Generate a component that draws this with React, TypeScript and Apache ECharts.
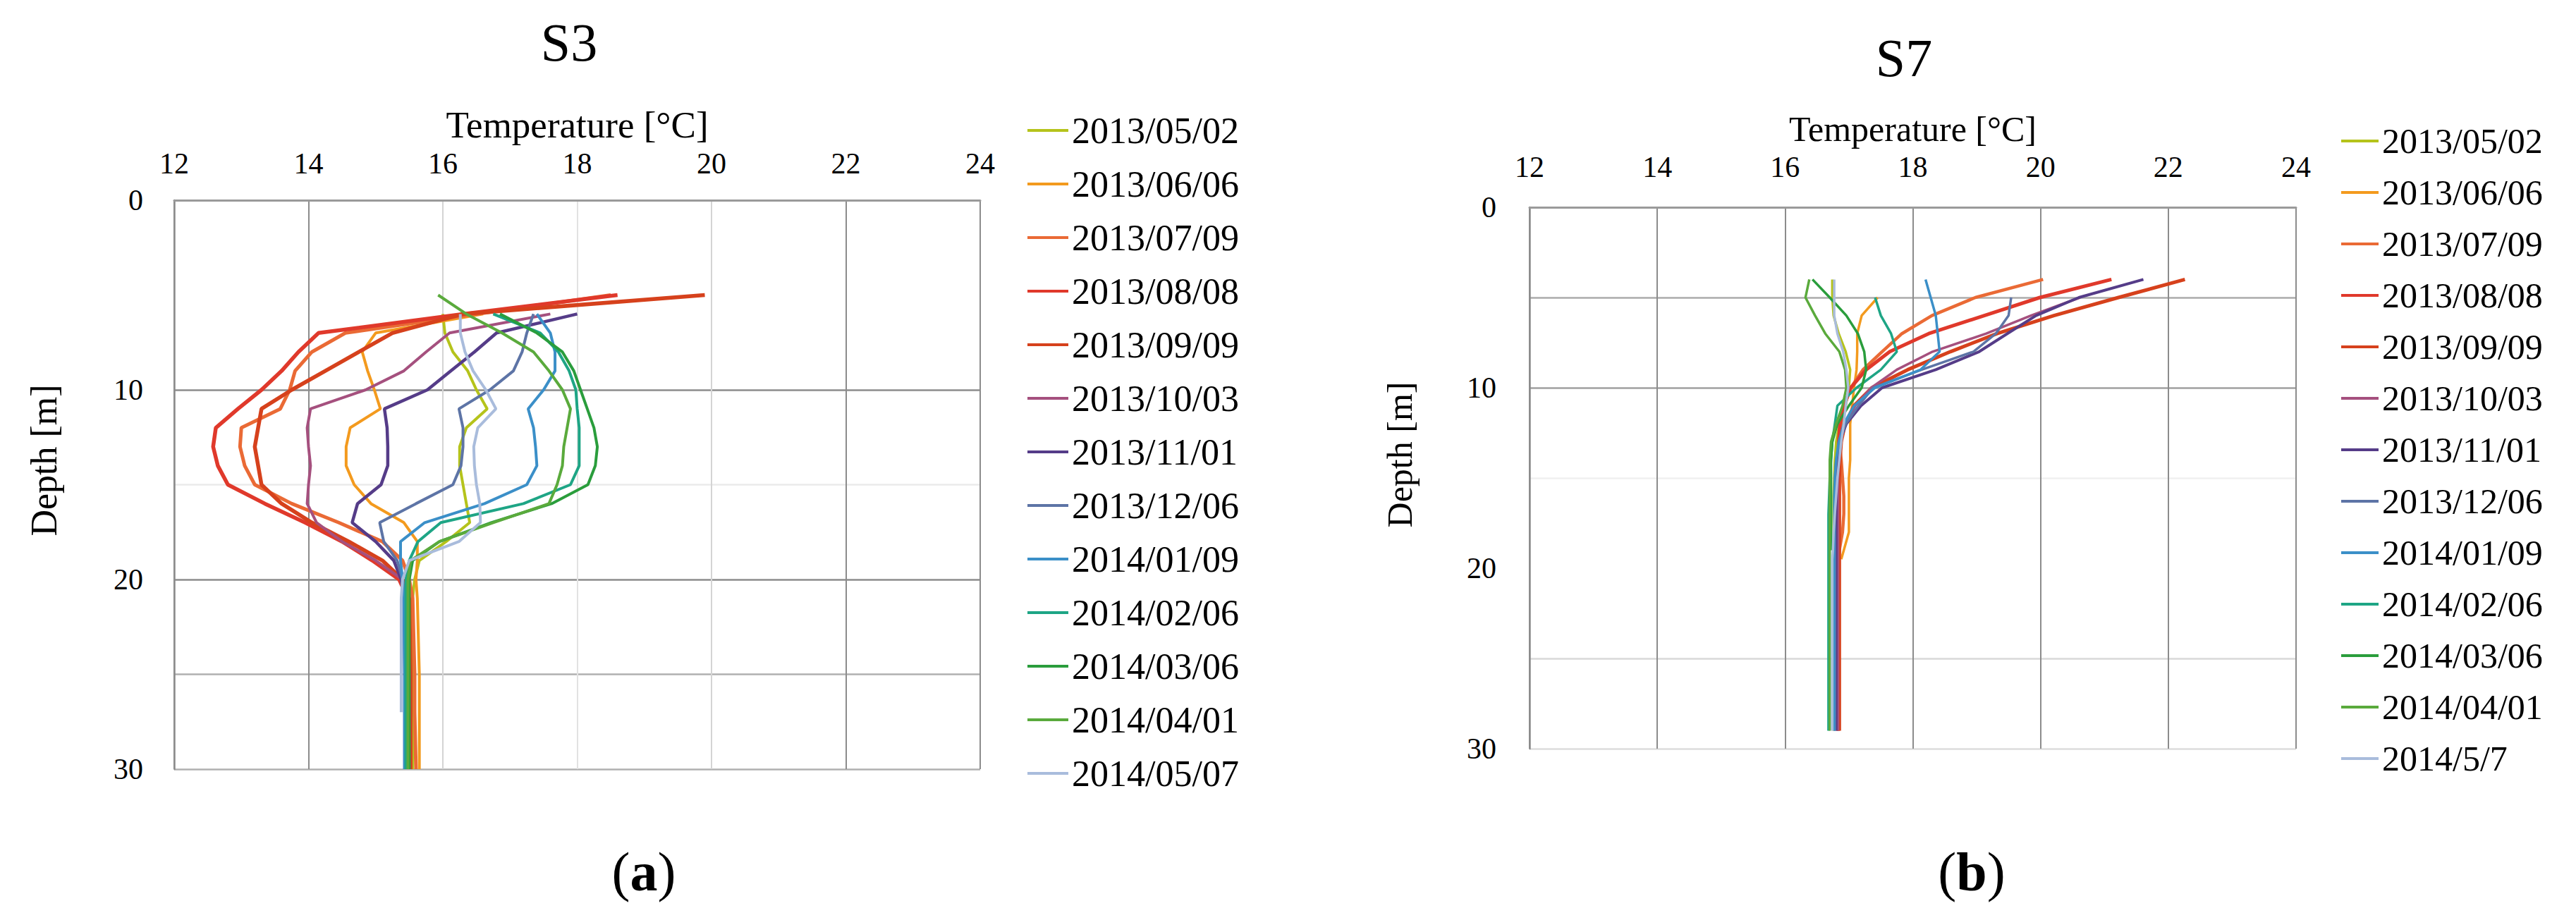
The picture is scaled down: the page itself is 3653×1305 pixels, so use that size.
import React, { useEffect, useRef } from "react";
import * as echarts from "echarts";

const FONT = '"Liberation Serif", "Times New Roman", serif';

// ---------- S3 (a) ----------
const NAMES_A = [
  "2013/05/02", "2013/06/06", "2013/07/09", "2013/08/08", "2013/09/09", "2013/10/03", "2013/11/01",
  "2013/12/06", "2014/01/09", "2014/02/06", "2014/03/06", "2014/04/01", "2014/05/07",
];
const DEPTHS_A = [5, 6, 7, 8, 9, 10, 11, 12, 13, 14, 15, 16, 17, 18, 19, 20, 21, 25, 27, 30];
const A_20130502 = [null, 16.0, 16.03, 16.15, 16.37, 16.5, 16.66, 16.35, 16.25, 16.25, 16.3, 16.35, 16.4, 16.05, 15.65, 15.58, 15.55, 15.55, 15.55, 15.55];
const A_20130606 = [null, 16.6, 15.0, 14.8, 14.88, 14.98, 15.07, 14.62, 14.56, 14.56, 14.68, 14.93, 15.42, 15.62, 15.62, 15.6, 15.62, 15.65, 15.65, 15.65];
const A_20130709 = [18.5, 16.5, 14.55, 14.05, 13.8, 13.72, 13.58, 13.0, 12.98, 13.05, 13.2, 13.75, 14.45, 15.1, 15.4, 15.5, 15.55, 15.58, 15.58, 15.6];
const A_20130808 = [18.6, 16.3, 14.15, 13.85, 13.6, 13.3, 12.95, 12.62, 12.58, 12.65, 12.8, 13.35, 13.95, 14.5, 14.95, 15.35, 15.48, 15.5, 15.5, 15.5];
const A_20130909 = [19.9, 16.3, 15.25, 14.75, 14.25, 13.75, 13.3, 13.25, 13.2, 13.25, 13.3, 13.6, 14.05, 14.6, 15.1, 15.4, 15.5, 15.52, 15.52, 15.52];
const A_20131003 = [null, 17.6, 16.1, 15.75, 15.42, 14.85, 14.03, 13.98, 14.0, 14.03, 14.0, 13.98, 14.12, 14.5, 15.0, 15.4, 15.48, 15.5, 15.5, 15.5];
const A_20131101 = [null, 18.0, 16.8, 16.47, 16.12, 15.77, 15.13, 15.17, 15.18, 15.18, 15.08, 14.73, 14.65, 15.0, 15.27, 15.38, 15.42, 15.45, 15.45, 15.45];
const A_20131206 = [null, 17.35, 17.25, 17.18, 17.05, 16.7, 16.24, 16.3, 16.3, 16.27, 16.15, 15.6, 15.06, 15.12, 15.32, 15.4, 15.42, 15.43, 15.43, 15.43];
const A_20140109 = [null, 17.4, 17.6, 17.67, 17.67, 17.5, 17.27, 17.35, 17.38, 17.4, 17.25, 16.62, 15.73, 15.37, 15.37, 15.4, 15.42, 15.43, 15.43, 15.43];
const A_20140206 = [null, 16.75, 17.45, 17.72, 17.88, 17.98, 18.0, 18.03, 18.03, 18.03, 17.9, 17.2, 15.97, 15.63, 15.5, 15.45, 15.45, 15.45, 15.45, 15.45];
const A_20140306 = [null, 16.85, 17.4, 17.78, 17.95, 18.05, 18.15, 18.25, 18.3, 18.27, 18.16, 17.62, 16.72, 15.95, 15.55, 15.5, 15.5, 15.5, 15.5, 15.5];
const A_20140401 = [15.93, 16.35, 16.88, 17.35, 17.58, 17.78, 17.9, 17.85, 17.8, 17.78, 17.7, 17.58, 16.75, 15.95, 15.52, 15.48, 15.48, 15.48, 15.48, 15.48];
const A_20140507 = [null, 16.26, 16.26, 16.33, 16.45, 16.64, 16.79, 16.52, 16.46, 16.47, 16.5, 16.55, 16.56, 16.24, 15.5, 15.4, 15.38, 15.38, 15.38, null];
const TEMPS_A = [
  A_20130502, A_20130606, A_20130709, A_20130808, A_20130909, A_20131003, A_20131101,
  A_20131206, A_20140109, A_20140206, A_20140306, A_20140401, A_20140507,
];

// ---------- S7 (b) ----------
const NAMES_B = [
  "2013/05/02", "2013/06/06", "2013/07/09", "2013/08/08", "2013/09/09", "2013/10/03", "2013/11/01",
  "2013/12/06", "2014/01/09", "2014/02/06", "2014/03/06", "2014/04/01", "2014/5/7",
];
const DEPTHS_B = [4, 5, 6, 7, 8, 9, 10, 11, 12, 13, 14, 15, 16, 17, 18, 19, 19.5, 25, 29];
const B_20130502 = [16.74, 16.74, 16.76, 16.84, 16.95, 17.02, 17.0, 16.95, 16.85, 16.8, 16.78, 16.77, 16.76, 16.76, 16.76, 16.76, 16.76, 16.76, 16.76];
const B_20130606 = [null, 17.45, 17.2, 17.13, 17.13, 17.12, 17.08, 17.05, 17.02, 17.02, 17.02, 17.0, 17.0, 17.0, 17.0, 16.92, 16.88, null, null];
const B_20130709 = [20.04, 18.98, 18.3, 17.83, 17.52, 17.22, 17.03, 16.93, 16.88, 16.85, 16.88, 16.9, 16.92, 16.92, 16.9, 16.85, 16.84, 16.83, 16.83];
const B_20130808 = [21.11, 19.99, 19.12, 18.25, 17.64, 17.27, 17.03, 16.92, 16.86, 16.84, 16.83, 16.83, 16.83, 16.83, 16.83, 16.83, 16.83, 16.83, 16.83];
const B_20130909 = [22.26, 21.22, 20.21, 19.32, 18.59, 17.92, 17.36, 17.08, 16.94, 16.88, 16.86, 16.85, 16.85, 16.85, 16.85, 16.85, 16.85, 16.85, 16.85];
const B_20131003 = [null, 20.62, 19.85, 19.15, 18.31, 17.75, 17.35, 17.1, 16.93, 16.86, 16.84, 16.83, 16.83, 16.83, 16.83, 16.83, 16.83, 16.83, 16.83];
const B_20131101 = [21.61, 20.6, 19.93, 19.48, 19.04, 18.36, 17.52, 17.19, 16.96, 16.85, 16.82, 16.8, 16.8, 16.8, 16.8, 16.8, 16.8, 16.8, 16.8];
const B_20131206 = [null, 19.54, 19.5, 19.3, 18.95, 18.14, 17.38, 17.15, 16.95, 16.85, 16.8, 16.78, 16.78, 16.78, 16.78, 16.78, 16.78, 16.78, 16.78];
const B_20140109 = [18.2, 18.28, 18.36, 18.39, 18.42, 18.12, 17.41, 17.08, 16.92, 16.84, 16.8, 16.78, 16.77, 16.77, 16.77, 16.77, 16.77, 16.77, 16.77];
const B_20140206 = [null, 17.41, 17.5, 17.66, 17.75, 17.5, 17.12, 16.82, 16.78, 16.74, 16.72, 16.7, 16.69, 16.68, 16.68, 16.68, 16.68, 16.68, 16.68];
const B_20140306 = [16.43, 16.7, 16.96, 17.14, 17.24, 17.27, 17.2, 17.0, 16.82, 16.74, 16.72, 16.72, 16.72, 16.72, 16.72, 16.72, null, null, null];
const B_20140401 = [16.38, 16.32, 16.47, 16.63, 16.85, 16.94, 16.96, 16.9, 16.8, 16.72, 16.7, 16.7, 16.7, 16.7, 16.7, 16.7, 16.7, 16.7, 16.7];
const B_20140507 = [16.77, 16.77, 16.77, 16.82, 16.91, 16.96, 16.99, 16.95, 16.92, 16.88, 16.85, 16.82, 16.8, 16.78, 16.76, 16.75, 16.74, 16.74, 16.74];
const TEMPS_B = [
  B_20130502, B_20130606, B_20130709, B_20130808, B_20130909, B_20131003, B_20131101,
  B_20131206, B_20140109, B_20140206, B_20140306, B_20140401, B_20140507,
];

const TEMP_TICKS = { min: 12, max: 24, interval: 2 };
const DEPTH_TICKS = { min: 0, max: 30, interval: 5 };

const COLORS = [
  "#b5c31b", "#f39a1e", "#ea6a35", "#e0392b", "#d6411c", "#a5507e", "#553c88",
  "#5d74a6", "#3b8fc8", "#1ea585", "#2a9d3c", "#5aaa3c", "#a9bcdc",
];
const WIDTHS = [4, 4, 5, 5.5, 5.5, 4, 4.5, 4, 4, 4, 4, 4, 4];

const toPairs = (depths: number[], temps: (number | null)[]) =>
  temps
    .map((t, i) => (t == null ? null : [t, depths[i]]))
    .filter((p) => p !== null) as number[][];

function buildOption() {
  const series: any[] = [];
  NAMES_A.forEach((name, i) => {
    series.push({
      type: "line",
      name,
      xAxisIndex: 0,
      yAxisIndex: 0,
      data: toPairs(DEPTHS_A, TEMPS_A[i]),
      symbol: "none",
      lineStyle: { color: COLORS[i], width: WIDTHS[i] },
      itemStyle: { color: COLORS[i] },
    });
  });
  NAMES_B.forEach((name, i) => {
    series.push({
      type: "line",
      name,
      xAxisIndex: 1,
      yAxisIndex: 1,
      data: toPairs(DEPTHS_B, TEMPS_B[i]),
      symbol: "none",
      lineStyle: { color: COLORS[i], width: WIDTHS[i] - 0.5 },
      itemStyle: { color: COLORS[i] },
    });
  });

  const xAxis = (gridIndex: number, nameGap: number, nameSize: number, margin: number, colors: string[]) => ({
    gridIndex,
    type: "value",
    position: "top",
    ...TEMP_TICKS,
    name: "Temperature [°C]",
    nameLocation: "middle",
    nameGap,
    nameTextStyle: { fontSize: nameSize, fontFamily: FONT, color: "#000", verticalAlign: "middle" },
    axisLine: { show: true, onZero: false, lineStyle: { color: "#9a9a9a", width: 3 } },
    axisTick: { show: false },
    axisLabel: { fontSize: 42, fontFamily: FONT, color: "#000", margin },
    splitLine: { show: true, lineStyle: { color: colors, width: 2 } },
  });
  const yAxis = (gridIndex: number, margin: number, colors: string[]) => ({
    gridIndex,
    type: "value",
    inverse: true,
    ...DEPTH_TICKS,
    axisLine: { show: true, onZero: false, lineStyle: { color: "#8c8c8c", width: 2.5 } },
    axisTick: { show: false },
    axisLabel: {
      fontSize: 42,
      fontFamily: FONT,
      color: "#000",
      margin,
      formatter: (v: number) => (v % 10 === 0 ? String(v) : ""),
    },
    splitLine: { show: true, lineStyle: { color: colors, width: 2.5 } },
  });

  const legend = (data: string[], left: number, top: number, itemWidth: number, fs: number, gap: number) => ({
    data,
    orient: "vertical",
    left,
    top,
    padding: 0,
    icon: "rect",
    itemWidth,
    itemHeight: 4,
    itemGap: gap,
    selectedMode: false,
    textStyle: { fontSize: fs, lineHeight: fs, fontFamily: FONT, color: "#000" },
  });

  const txt = (text: string, x: number, y: number, size: number, extra: any = {}) => ({
    type: "text",
    x,
    y,
    ...extra,
    style: {
      text,
      fontSize: size,
      fontFamily: FONT,
      fill: "#000",
      align: "center",
      verticalAlign: "middle",
    },
  });
  const panelLabel = (letter: string, x: number, y: number) => ({
    type: "text",
    x,
    y,
    style: {
      text: `{n|(}{b|${letter}}{n|)}`,
      align: "center",
      verticalAlign: "middle",
      rich: {
        n: { fontSize: 78, fontFamily: FONT, fill: "#000" },
        b: { fontSize: 78, fontFamily: FONT, fontWeight: "bold", fill: "#000" },
      },
    },
  });

  return {
    animation: false,
    backgroundColor: "#ffffff",
    grid: [
      { left: 247, top: 284, width: 1143, height: 807, containLabel: false },
      { left: 2169, top: 294, width: 1087, height: 768, containLabel: false },
    ],
    xAxis: [
      xAxis(0, 107, 53, 31, ["#8c8c8c", "#8c8c8c", "#d4d4d4", "#e2e2e2", "#d4d4d4", "#8c8c8c", "#8c8c8c"]),
      xAxis(1, 111, 50, 36, ["#8c8c8c"]),
    ],
    yAxis: [
      yAxis(0, 44, ["#999999", "#ffffff", "#8c8c8c", "#ebebeb", "#8c8c8c", "#b0b0b0", "#b0b0b0"]),
      yAxis(1, 47, ["#999999", "#ababab", "#a0a0a0", "#f0f0f0", "#ffffff", "#d8d8d8", "#dcdcdc"]),
    ],
    legend: [legend(NAMES_A, 1457, 159, 58, 52, 24), legend(NAMES_B, 3320, 175, 53, 50, 23)],
    graphic: [
      txt("S3", 807, 60, 76),
      txt("S7", 2700, 82, 76),
      txt("Depth [m]", 62, 653, 52, { rotation: Math.PI / 2 }),
      txt("Depth [m]", 1985, 645, 50, { rotation: Math.PI / 2 }),
      panelLabel("a", 913, 1236),
      panelLabel("b", 2796, 1236),
    ],
    series,
  };
}

export default function App() {
  const ref = useRef<HTMLDivElement>(null);
  useEffect(() => {
    document.body.style.margin = "0";
    if (!ref.current) return;
    const chart = echarts.init(ref.current, undefined, { renderer: "svg" });
    chart.setOption(buildOption() as any);
    return () => chart.dispose();
  }, []);
  return <div ref={ref} style={{ width: 3653, height: 1305, background: "#fff" }} />;
}
